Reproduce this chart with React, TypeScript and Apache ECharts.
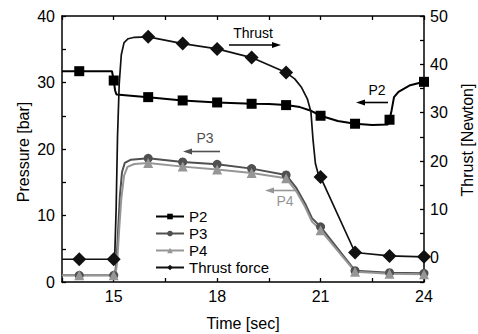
import React, { useEffect, useRef } from "react";
import * as echarts from "echarts";

// ---- data ----
const times = [14, 15, 16, 17, 18, 19, 20, 21, 22, 23, 24];
const p2 = [31.7, 30.3, 27.8, 27.3, 27.0, 26.8, 26.6, 25.0, 23.8, 24.4, 30.1];
const p3 = [1.0, 1.0, 18.6, 18.05, 17.7, 17.05, 16.1, 8.3, 1.7, 1.4, 1.3];
const p4 = [1.0, 1.0, 17.9, 17.35, 16.9, 16.4, 15.6, 7.8, 1.55, 1.25, 1.15];
const thrust = [-0.3, -0.3, 45.7, 44.3, 43.2, 41.4, 38.3, 16.7, 1.1, 0.4, 0.2];

const p2Trace = [
  [13.5, 31.7], [14.95, 31.7], [15.04, 28.8], [15.08, 28.2], [19.5, 26.75],
  [20.4, 26.3], [20.7, 25.8], [21.5, 24.2], [22.5, 23.6], [22.95, 23.7],
  [23.06, 25.8], [23.13, 27.8], [23.26, 28.6], [23.6, 29.6],
];
const p3Trace = [
  [13.5, 1.0], [15.03, 1.0], [15.08, 3.0], [15.13, 8.0], [15.18, 13.0],
  [15.24, 16.5], [15.32, 17.9], [15.5, 18.4], [20.3, 14.1], [20.55, 11.8], [20.75, 9.6],
];
const p4Trace = [
  [13.5, 1.0], [15.05, 1.0], [15.1, 3.0], [15.16, 8.0], [15.22, 12.5],
  [15.3, 16.0], [15.4, 17.3], [15.6, 17.75], [20.3, 13.6], [20.55, 11.3], [20.75, 9.1],
];
const thrustTrace = [
  [13.5, -0.3], [15.03, 0.5], [15.07, 10], [15.11, 25], [15.16, 36], [15.22, 42],
  [15.3, 44.5], [15.42, 45.3], [15.6, 45.6], [20.25, 37.0], [20.45, 35.2],
  [20.62, 32.8], [20.72, 30.2], [20.78, 24.5], [20.85, 19.5], [20.93, 17.4],
];

const FONT = "'Liberation Sans', Arial, sans-serif";

function buildData(values: number[], trace: number[][]) {
  const pts: any[] = times.map((t, i) => ({ value: [t, values[i]] }));
  trace.forEach((p) => pts.push({ value: p, symbol: "none" }));
  pts.sort((a, b) => a.value[0] - b.value[0]);
  return pts;
}

function arrow(x1: number, x2: number, y: number, color: string) {
  const dir = x2 > x1 ? 1 : -1;
  const head = 9;
  return [
    {
      type: "line",
      shape: { x1, y1: y, x2: x2 - dir * head * 0.6, y2: y },
      style: { stroke: color, lineWidth: 1.6 },
    },
    {
      type: "polygon",
      shape: { points: [[x2, y], [x2 - dir * head, y - 3], [x2 - dir * head, y + 3]] },
      style: { fill: color },
    },
  ];
}

function label(text: string, x: number, y: number, color: string, size = 14, rotation = 0) {
  return {
    type: "text",
    x,
    y,
    rotation,
    style: {
      text,
      fill: color,
      fontSize: size,
      fontFamily: FONT,
      fontWeight: "normal",
      textAlign: "center",
      textVerticalAlign: "middle",
      align: "center",
      verticalAlign: "middle",
    },
  };
}

export default function App() {
  const ref = useRef<HTMLDivElement>(null);
  useEffect(() => {
    if (!ref.current) return;
    const chart = echarts.init(ref.current, undefined, { renderer: "svg" });
    const axisLine = { show: true, onZero: false, lineStyle: { color: "#000", width: 1.5 } };
    const axisTick = { show: true, inside: true, length: 4, lineStyle: { color: "#000", width: 1.3 } };
    const labelStyle = { color: "#000", fontSize: 16, fontFamily: FONT };
    const lineSeries = (name: string, data: any[], color: string, symbol: string, size: any, width: number, yAxisIndex = 0) => ({
      name,
      type: "line",
      yAxisIndex,
      data,
      symbol,
      symbolSize: size,
      showSymbol: true,
      showAllSymbol: true,
      lineStyle: { color, width },
      itemStyle: { color, borderWidth: 0 },
      emphasis: { disabled: true },
    });

    chart.setOption({
      animation: false,
      backgroundColor: "#fff",
      textStyle: { fontFamily: FONT },
      grid: { left: 62, top: 16, width: 362, height: 266, containLabel: false },
      legend: {
        orient: "vertical",
        left: 150,
        top: 204,
        itemWidth: 28,
        itemHeight: 7,
        itemGap: 2,
        textStyle: { fontSize: 15, color: "#000", fontFamily: FONT, lineHeight: 15 },
        data: ["P2", "P3", "P4", "Thrust force"],
      },
      xAxis: [
        {
          type: "value",
          position: "bottom",
          min: 13.5,
          max: 24,
          interval: 1.5,
          axisLine,
          axisTick,
          splitLine: { show: false },
          axisLabel: {
            ...labelStyle,
            margin: 6,
            formatter: (v: number) => (Math.abs(v % 3) < 1e-6 ? String(v) : ""),
          },
        },
        {
          type: "value",
          position: "top",
          min: 13.5,
          max: 24,
          interval: 1.5,
          axisLine,
          axisTick,
          splitLine: { show: false },
          axisLabel: { show: false },
        },
      ],
      yAxis: [
        {
          type: "value",
          position: "left",
          min: 0,
          max: 40,
          interval: 5,
          axisLine,
          axisTick,
          splitLine: { show: false },
          axisLabel: {
            ...labelStyle,
            margin: 7,
            formatter: (v: number) => (v % 10 === 0 ? String(v) : ""),
          },
        },
        {
          type: "value",
          position: "right",
          min: -5,
          max: 50,
          interval: 5,
          axisLine,
          axisTick,
          splitLine: { show: false },
          axisLabel: {
            ...labelStyle,
            margin: 6,
            formatter: (v: number) => (v % 10 === 0 ? String(v) : ""),
          },
        },
      ],
      series: [
        lineSeries("P2", buildData(p2, p2Trace), "#000000", "rect", 10, 2),
        lineSeries("P3", buildData(p3, p3Trace), "#505050", "circle", 9, 2),
        lineSeries("P4", buildData(p4, p4Trace), "#969696", "triangle", 10, 2),
        lineSeries("Thrust force", buildData(thrust, thrustTrace), "#111111", "diamond", 14, 1.7, 1),
      ],
      graphic: [
        label("Thrust", 253, 33, "#000"),
        ...arrow(229, 281, 45, "#000"),
        label("P2", 377, 90, "#000"),
        ...arrow(388, 356, 102.5, "#000"),
        label("P3", 205, 138, "#505050"),
        ...arrow(220, 183, 151.5, "#505050"),
        label("P4", 285, 200.5, "#969696"),
        ...arrow(295, 265, 190.5, "#969696"),
        label("Time [sec]", 243, 323, "#000", 16),
        label("Pressure [bar]", 23, 152, "#000", 16, Math.PI / 2),
        label("Thrust [Newton]", 467, 140, "#000", 16, Math.PI / 2),
      ],
    });
    return () => chart.dispose();
  }, []);
  return <div ref={ref} style={{ position: "fixed", left: 0, top: 0, width: 478, height: 334 }} />;
}
